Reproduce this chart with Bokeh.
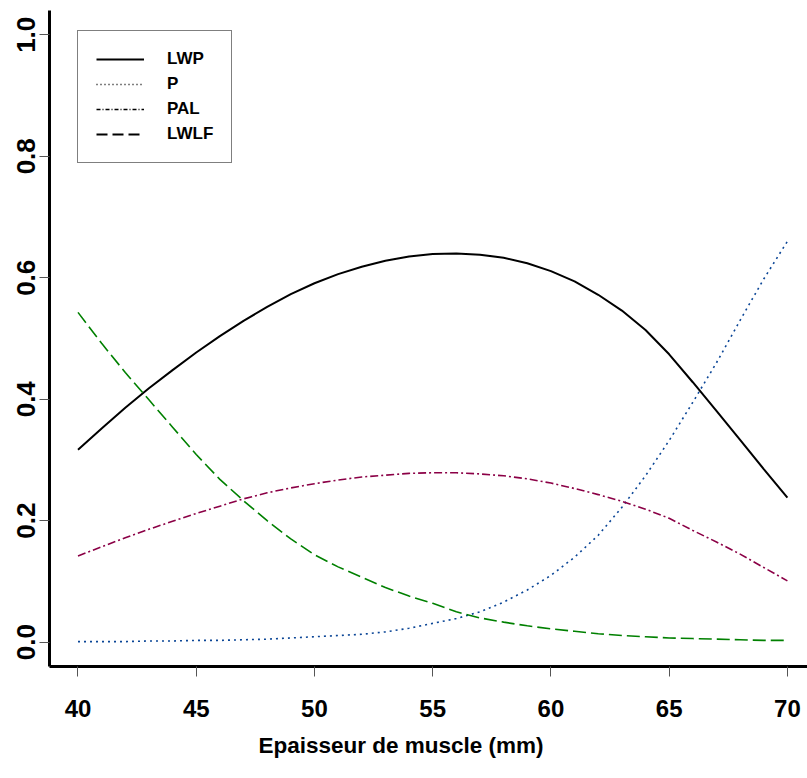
from bokeh.plotting import figure
from bokeh.models import (Range1d, FixedTicker, PrintfTickFormatter, Legend, LegendItem, Title)
from bokeh.embed import file_html
from bokeh.resources import INLINE

# ---- data ----
epaisseur = [40, 41, 42, 43, 44, 45, 46, 47, 48, 49, 50, 51, 52, 53, 54, 55,
             56, 57, 58, 59, 60, 61, 62, 63, 64, 65, 66, 67, 68, 69, 70]
lwp = [0.317, 0.352, 0.386, 0.418, 0.448, 0.477, 0.504, 0.529, 0.552, 0.573, 0.591,
       0.606, 0.618, 0.628, 0.635, 0.639, 0.640, 0.638, 0.633, 0.624, 0.611, 0.594,
       0.572, 0.546, 0.514, 0.474, 0.428, 0.381, 0.333, 0.285, 0.238]
p_ = [0.001, 0.001, 0.001, 0.002, 0.002, 0.003, 0.003, 0.004, 0.005, 0.007, 0.009,
      0.011, 0.013, 0.017, 0.023, 0.031, 0.039, 0.050, 0.066, 0.086, 0.110, 0.140,
      0.176, 0.222, 0.274, 0.332, 0.395, 0.460, 0.530, 0.598, 0.660]
pal = [0.142, 0.157, 0.172, 0.186, 0.199, 0.212, 0.224, 0.236, 0.246, 0.254, 0.261,
       0.267, 0.272, 0.275, 0.278, 0.279, 0.279, 0.277, 0.274, 0.269, 0.262, 0.253,
       0.243, 0.232, 0.219, 0.204, 0.184, 0.165, 0.145, 0.123, 0.101]
lwlf = [0.543, 0.492, 0.444, 0.399, 0.354, 0.309, 0.268, 0.233, 0.200, 0.170, 0.144,
        0.124, 0.107, 0.090, 0.076, 0.064, 0.050, 0.040, 0.033, 0.027, 0.022, 0.018,
        0.014, 0.011, 0.009, 0.007, 0.006, 0.005, 0.004, 0.003, 0.003]
series_names = ["LWP", "P", "PAL", "LWLF"]
x_ticks = [40, 45, 50, 55, 60, 65, 70]
y_ticks = [0.0, 0.2, 0.4, 0.6, 0.8, 1.0]
x_title = "Epaisseur de muscle (mm)"

FONT = "Liberation Sans"
NAN = float("nan")

p = figure(width=807, height=778, output_backend="svg", toolbar_location=None,
           x_range=Range1d(38.795, 70.85), y_range=Range1d(-0.04, 1.04),
           min_border_left=49, min_border_right=0, min_border_top=10,
           min_border_bottom=112)
p.grid.visible = False
p.outline_line_color = None
p.background_fill_color = "white"
p.border_fill_color = "white"

# axes
for ax in (p.xaxis[0], p.yaxis[0]):
    ax.axis_line_width = 3
    ax.axis_line_color = "black"
    ax.major_tick_in = 0
    ax.major_tick_out = 10
    ax.major_tick_line_color = "#555555"
    ax.major_tick_line_width = 1
    ax.minor_tick_line_color = None
    ax.major_label_text_font = FONT
    ax.major_label_text_font_style = "bold"
    ax.major_label_text_color = "black"

p.xaxis.ticker = FixedTicker(ticks=x_ticks)
p.xaxis.formatter = PrintfTickFormatter(format="%d")
p.xaxis.major_label_text_font_size = "24px"
p.xaxis.major_label_standoff = 23

p.yaxis.ticker = FixedTicker(ticks=y_ticks)
p.yaxis.formatter = PrintfTickFormatter(format="%.1f")
p.yaxis.major_label_text_font_size = "26px"
p.yaxis.major_label_orientation = "vertical"
p.yaxis.major_label_standoff = 4

# curves
p.line(epaisseur, lwp, line_color="black", line_width=2)
p.line(epaisseur, p_, line_color="#0A4596", line_width=1.6, line_dash="2 4")
p.line(epaisseur, pal, line_color="#8B0046", line_width=1.6, line_dash="8 3 2 3")
p.line(epaisseur, lwlf, line_color="#008000", line_width=1.6, line_dash="13 5")

# legend proxies (black, as in reference)
g1 = p.line([NAN], [NAN], line_color="black", line_width=2)
g2 = p.line([NAN], [NAN], line_color="black", line_width=1.3, line_dash="1 3")
g3 = p.line([NAN], [NAN], line_color="black", line_width=1.3, line_dash="4 2 1 2")
g4 = p.line([NAN], [NAN], line_color="black", line_width=2, line_dash="11 5")

legend = Legend(items=[LegendItem(label=n, renderers=[g]) for n, g in
                       zip(series_names, [g1, g2, g3, g4])],
                location=(28, 503), margin=0, padding=18, spacing=5,
                glyph_width=48, glyph_height=18, label_height=18,
                label_standoff=23, border_line_color="black",
                border_line_width=1.5, background_fill_alpha=1,
                label_text_font=FONT, label_text_font_style="bold",
                label_text_font_size="17px", label_text_color="black")
p.add_layout(legend)

title = Title(text=x_title, align="left", offset=209, standoff=22,
              text_font=FONT, text_font_style="bold", text_font_size="22.5px",
              text_color="black")
p.add_layout(title, "below")

open("out.html", "w").write(file_html(p, INLINE))
